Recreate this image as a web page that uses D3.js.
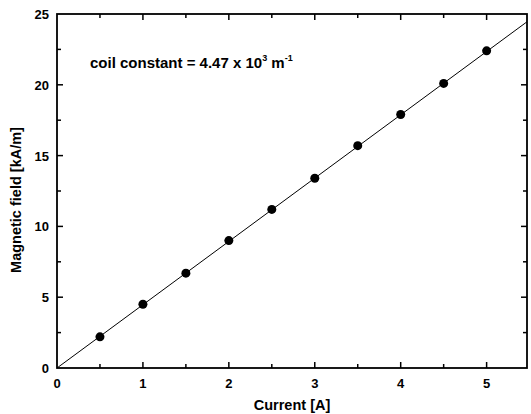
<html>
<script src="https://d3js.org/d3.v7.min.js"></script>
<body style="margin:0;background:#fff">
<div id="chart"></div>
<script>
    // measured points: current [A] vs magnetic field [kA/m]
    let currents = [0.5, 1, 1.5, 2, 2.5, 3, 3.5, 4, 4.5, 5];
    let fields = [2.2, 4.5, 6.7, 9.0, 11.2, 13.4, 15.7, 17.9, 20.1, 22.4];
    // linear fit line endpoints
    let fitX = [0, 5.47];
    let fitY = [0, 24.45];
    let xTicks = [0, 1, 2, 3, 4, 5];
    let yTicks = [0, 5, 10, 15, 20, 25];

    let W = 531, H = 414;
    let svg = d3.select('#chart').append('svg').attr('width', W).attr('height', H);
    let font = '"Liberation Sans", Arial, sans-serif';

    let x = d3.scaleLinear().domain([0, 5.47]).range([57, 527]);
    let y = d3.scaleLinear().domain([0, 25]).range([368, 14]);

    // frame
    svg.append('rect')
        .attr('x', x.range()[0]).attr('y', y.range()[1])
        .attr('width', x.range()[1] - x.range()[0])
        .attr('height', y.range()[0] - y.range()[1])
        .attr('fill', 'none').attr('stroke', '#000').attr('stroke-width', 1.8);

    let xMinor = d3.range(0.5, 5.5, 1);
    let yMinor = d3.range(2.5, 25, 5);

    // ticks pointing inward on all four sides
    function ticks(vals, len) {
        vals.forEach(v => {
            // bottom & top
            svg.append('line').attr('x1', x(v)).attr('x2', x(v))
                .attr('y1', y(0)).attr('y2', y(0) - len).attr('stroke', '#000').attr('stroke-width', 1.5);
            svg.append('line').attr('x1', x(v)).attr('x2', x(v))
                .attr('y1', y(25)).attr('y2', y(25) + len).attr('stroke', '#000').attr('stroke-width', 1.5);
        });
    }
    function yticks(vals, len) {
        vals.forEach(v => {
            svg.append('line').attr('x1', x.range()[0]).attr('x2', x.range()[0] + len)
                .attr('y1', y(v)).attr('y2', y(v)).attr('stroke', '#000').attr('stroke-width', 1.5);
            svg.append('line').attr('x1', x.range()[1]).attr('x2', x.range()[1] - len)
                .attr('y1', y(v)).attr('y2', y(v)).attr('stroke', '#000').attr('stroke-width', 1.5);
        });
    }
    ticks(xTicks.filter(v => v > 0), 6);
    ticks(xMinor, 4);
    yticks(yTicks.filter(v => v > 0 && v < 25), 6);
    yticks(yMinor, 4);

    // tick labels
    svg.selectAll('.xl').data(xTicks).enter().append('text')
        .attr('x', d => x(d)).attr('y', 388)
        .attr('text-anchor', 'middle').attr('font-family', font)
        .attr('font-weight', 'bold').attr('font-size', 13).text(d => d);
    svg.selectAll('.yl').data(yTicks).enter().append('text')
        .attr('x', 49).attr('y', d => y(d) + 5)
        .attr('text-anchor', 'end').attr('font-family', font)
        .attr('font-weight', 'bold').attr('font-size', 13).text(d => d);

    // axis titles
    svg.append('text').attr('x', 292).attr('y', 410)
        .attr('text-anchor', 'middle').attr('font-family', font)
        .attr('font-weight', 'bold').attr('font-size', 14.5).text('Current [A]');
    svg.append('text')
        .attr('transform', `translate(21,200) rotate(-90)`)
        .attr('text-anchor', 'middle').attr('font-family', font)
        .attr('font-weight', 'bold').attr('font-size', 14.5).text('Magnetic field [kA/m]');

    // fit line
    let line = d3.line().x(d => x(d[0])).y(d => y(d[1]));
    svg.append('path').datum(d3.zip(fitX, fitY))
        .attr('d', line).attr('fill', 'none').attr('stroke', '#000').attr('stroke-width', 1);

    // points
    svg.selectAll('.pt').data(d3.zip(currents, fields)).enter().append('circle')
        .attr('cx', d => x(d[0])).attr('cy', d => y(d[1])).attr('r', 4.5).attr('fill', '#000');

    // annotation
    let ann = svg.append('text').attr('x', 90).attr('y', 68)
        .attr('font-family', font).attr('font-weight', 'bold').attr('font-size', 15);
    ann.append('tspan').text('coil constant = 4.47 x 10');
    ann.append('tspan').attr('font-size', 9).attr('dy', -7).text('3');
    ann.append('tspan').attr('dy', 7).text(' m');
    ann.append('tspan').attr('font-size', 9).attr('dy', -7).text('-1');
</script>
</body>
</html>
